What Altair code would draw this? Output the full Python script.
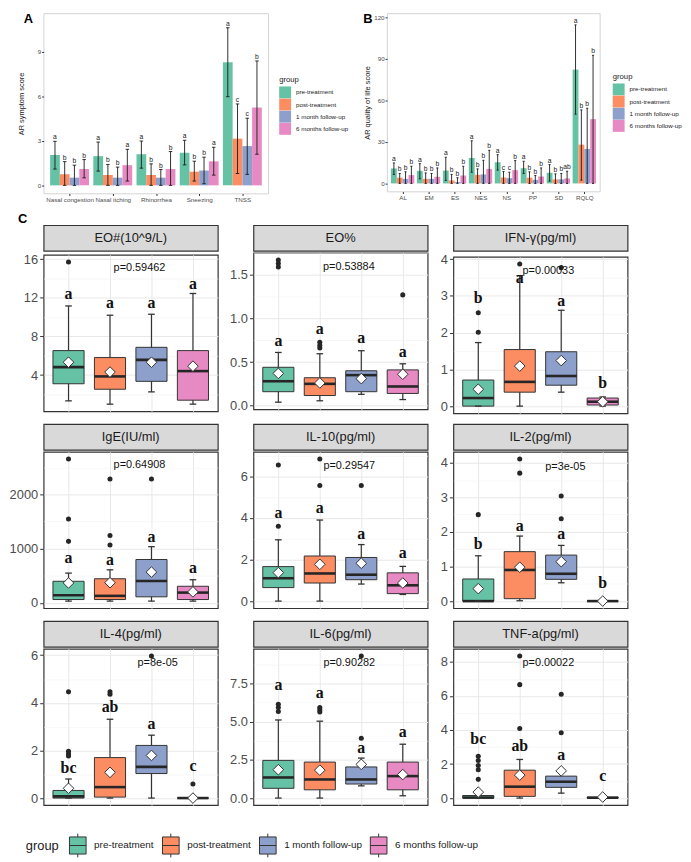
import altair as alt
import pandas as pd

GROUPS = ["pre-treatment", "post-treatment", "1 month follow-up", "6 months follow-up"]
COLORS = ["#66C2A5", "#FC8D62", "#8DA0CB", "#E78AC3"]

# ---------------- Panel A ----------------
A_CATS = ["Nasal congestion", "Nasal itching", "Rhinorrhea", "Sneezing", "TNSS"]
A_MEAN = [
    [2.05, 1.97, 2.10, 2.20, 8.30],
    [0.75, 0.70, 0.70, 0.92, 3.15],
    [0.52, 0.52, 0.52, 1.00, 2.65],
    [1.10, 1.36, 1.10, 1.62, 5.25],
]
A_LOW = [
    [1.10, 0.96, 1.16, 1.38, 5.98],
    [0.00, 0.00, 0.00, 0.29, 0.80],
    [0.00, 0.00, 0.00, 0.11, 0.74],
    [0.51, 0.29, 0.00, 0.69, 2.10],
]
A_HIGH = [
    [2.97, 2.92, 2.99, 3.04, 10.63],
    [1.60, 1.41, 1.45, 1.63, 5.49],
    [1.36, 1.23, 1.07, 1.90, 4.53],
    [1.74, 2.43, 2.28, 2.57, 8.39],
]
A_LETTERS = [
    ["a", "a", "a", "a", "a"],
    ["b", "b", "b", "b", "c"],
    ["b", "b", "b", "b", "c"],
    ["b", "a", "b", "a", "b"],
]
A_YLIM = [-0.55, 11.6]
A_BREAKS = [0, 3, 6, 9]

# ---------------- Panel B ----------------
B_CATS = ["AL", "EM", "ES", "NES", "NS", "PP", "SD", "RQLQ"]
B_MEAN = [
    [10.8, 9.1, 9.3, 18.4, 15.3, 11.0, 7.7, 82.2],
    [4.1, 3.3, 2.2, 6.2, 4.3, 4.1, 2.9, 28.0],
    [3.3, 3.3, 1.0, 6.5, 3.8, 2.6, 2.9, 24.9],
    [6.0, 4.8, 5.7, 10.5, 9.6, 5.0, 3.6, 46.4],
]
B_LOW = [
    [6.5, 3.3, 2.2, 8.1, 9.6, 7.2, 1.7, 50.0],
    [0, 0, 0, 0, 0, 0, 0, 2.4],
    [0, 0, 0, 0, 0, 0, 0, 0],
    [0, 0, 0, 0, 0, 0, 0, 0],
]
B_HIGH = [
    [14.8, 14.3, 18.9, 30.8, 20.8, 16.0, 13.6, 114.5],
    [7.2, 7.6, 6.5, 10.5, 8.6, 8.4, 6.9, 53.1],
    [8.4, 7.2, 4.1, 16.7, 8.1, 5.7, 7.2, 54.3],
    [12.4, 11.2, 12.4, 23.9, 16.5, 11.2, 8.8, 92.5],
]
B_LETTERS = [
    ["a", "a", "a", "a", "a", "a", "a", "a"],
    ["b", "b", "b", "b", "c", "b", "b", "b"],
    ["b", "b", "b", "b", "c", "b", "b", "b"],
    ["b", "b", "b", "b", "b", "b", "ab", "b"],
]
B_YLIM = [-5.85, 122.8]
B_BREAKS = [0, 30, 60, 90, 120]

# ---------------- Panel C ----------------
PANELS = ["EO#(10^9/L)", "EO%", "IFN-γ(pg/ml)", "IgE(IU/ml)", "IL-10(pg/ml)",
          "IL-2(pg/ml)", "IL-4(pg/ml)", "IL-6(pg/ml)", "TNF-a(pg/ml)"]
Q1 = [[3.10, 2.53, 3.35, 1.40], [0.16, 0.116, 0.16, 0.14], [0.0, 0.38, 0.57, 0.03],
      [60, 60, 110, 60], [0.65, 0.87, 1.03, 0.36], [0.0, 0.07, 0.63, 0.0],
      [0.0, 0.04, 1.03, 0.0], [0.64, 0.54, 0.92, 0.54], [0.0, 0.10, 0.63, 0.0]]
MEDIAN = [[4.82, 3.86, 5.57, 4.41], [0.28, 0.25, 0.35, 0.22], [0.22, 0.66, 0.82, 0.12],
          [140, 128, 402, 188], [1.10, 1.33, 1.27, 0.76], [0.0, 0.90, 0.79, 0.0],
          [0.07, 0.46, 1.31, 0.0], [1.35, 1.22, 1.22, 1.44], [0.03, 0.67, 0.96, 0.02]]
Q3 = [[6.53, 5.81, 6.87, 6.53], [0.44, 0.32, 0.40, 0.41], [0.71, 1.54, 1.48, 0.22],
      [397, 444, 799, 305], [1.66, 2.17, 2.10, 1.36], [0.64, 1.43, 1.33, 0.0],
      [0.32, 1.70, 2.21, 0.0], [2.47, 2.36, 2.04, 2.36], [0.15, 1.64, 1.29, 0.05]]
WHISK_LO = [[1.33, 0.99, 2.26, 0.99], [0.04, 0.056, 0.13, 0.07], [0.0, 0.0, 0.38, 0.0],
            [31, 31, 31, 31], [0.0, 0.0, 0.82, 0.32], [0.0, 0.01, 0.53, 0.0],
            [0.0, 0.0, 0.0, 0.0], [0.0, 0.0, 0.80, 0.15], [0.0, 0.0, 0.29, 0.0]]
WHISK_HI = [[11.15, 10.19, 10.29, 12.44], [0.61, 0.595, 0.63, 0.48], [1.73, 3.55, 2.61, 0.25],
            [548, 609, 1036, 426], [2.95, 3.90, 2.72, 1.67], [1.31, 1.88, 1.61, 0.0],
            [0.80, 3.31, 2.64, 0.0], [5.12, 5.04, 2.62, 3.53], [0.30, 2.27, 1.60, 0.10]]
MEANS = [[5.33, 4.31, 5.33, 4.92], [0.37, 0.26, 0.31, 0.36], [0.46, 1.09, 1.24, 0.12],
         [366, 371, 567, 201], [1.37, 1.77, 1.82, 0.87], [0.36, 0.98, 1.14, 0.0],
         [0.41, 1.08, 1.79, 0.0], [1.86, 1.83, 2.21, 1.54], [0.35, 1.35, 1.60, 0.06]]
OUTLIERS = [
    [[15.7], [], [], []],
    [[1.67, 1.63, 1.59], [0.726, 0.69, 0.66], [], [1.27]],
    [[2.54, 2.01], [3.87], [3.77], []],
    [[2656, 1548, 1134], [2285, 1243, 1068], [2285], []],
    [[6.55, 3.60], [6.84, 5.56], [5.56], []],
    [[2.50], [4.11, 3.70], [3.04, 2.38], []],
    [[4.46, 1.97, 1.86, 1.77], [4.46, 4.36], [5.97], [0.59]],
    [[6.15, 5.94, 5.68], [5.94, 5.78, 5.64], [3.92, 9.32], []],
    [[2.46, 2.21, 1.92, 1.67, 1.10], [8.36, 6.67, 4.09], [6.11, 3.84], []],
]
LETTERS = [["a", "a", "a", "a"], ["a", "a", "a", "a"], ["b", "a", "a", "b"],
           ["a", "a", "a", "a"], ["a", "a", "a", "a"], ["b", "a", "a", "b"],
           ["bc", "ab", "a", "c"], ["a", "a", "a", "a"], ["bc", "ab", "a", "c"]]
LETTER_Y = [[12.34, 11.5, 11.5, 13.44], [0.745, 0.877, 0.77, 0.61], [2.93, 3.50, 2.86, 0.64],
            [828, 780, 1219, 640], [4.26, 4.50, 3.21, 2.29], [1.66, 2.18, 1.93, 0.53],
            [1.28, 3.81, 3.10, 1.35], [7.44, 6.90, 3.28, 4.33], [3.46, 3.04, 2.50, 1.29]]
P_LABELS = ["p=0.59462", "p=0.53884", "p=0.00033", "p=0.64908", "p=0.29547",
            "p=3e-05", "p=8e-05", "p=0.90282", "p=0.00022"]
P_X = [2.71, 2.70, 2.69, 2.71, 2.71, 3.10, 3.15, 2.71, 2.69]
P_Y = [15.08, 1.59, 3.69, 2535, 6.5, 3.89, 5.66, 8.83, 7.94]
BREAKS = [[4, 8, 12, 16], [0, 0.5, 1.0, 1.5], [0, 1, 2, 3, 4], [0, 1000, 2000],
          [0, 2, 4, 6], [0, 1, 2, 3, 4], [0, 2, 4, 6], [0, 2.5, 5.0, 7.5], [0, 2, 4, 6, 8]]
FORMATS = ["d", ".1f", "d", "d", "d", "d", "d", ".1f", "d"]

FONT = "Liberation Sans"
DARK = "#333333"


def bar_chart(cats, means, lows, highs, letters, ylim, breaks, ytitle, tag, width,
              height, leg_x, leg_y, tag_x, title_pad):
    recs = []
    for gi, g in enumerate(GROUPS):
        for ci, c in enumerate(cats):
            recs.append({"group": g, "pos": ci + 1 + (gi - 1.5) * 0.225,
                         "mean": means[gi][ci], "low": lows[gi][ci],
                         "high": highs[gi][ci], "letter": letters[gi][ci]})
    df = pd.DataFrame(recs)
    n = len(cats)
    xs = alt.Scale(domain=[0.4, n + 0.6], nice=False, zero=False)
    names = ",".join("'" + c + "'" for c in cats)
    xa = alt.Axis(values=list(range(1, n + 1)), labelExpr=f"[{names}][datum.value - 1]",
                  title=None, grid=False, domain=False, labelFontSize=6.3,
                  labelColor="#4d4d4d", tickColor=DARK, tickSize=2, labelPadding=1,
                  labelOverlap=False, labelFlush=False, labelBound=False)
    ys = alt.Scale(domain=ylim, nice=False, zero=False)
    ya = alt.Axis(values=breaks, title=ytitle, grid=False, domain=False, labelFontSize=6.3,
                  labelColor="#4d4d4d", tickColor=DARK, tickSize=2, labelPadding=1,
                  titleFontSize=7.5, titleFontWeight="normal", titleColor="#1a1a1a",
                  titlePadding=title_pad)

    def X(f):
        return alt.X(f, type="quantitative", scale=xs, axis=xa)

    def Y(f):
        return alt.Y(f, type="quantitative", scale=ys, axis=ya)

    base = alt.Chart(df).transform_calculate(
        x1="datum.pos - 0.1125", x2="datum.pos + 0.1125",
        c1="datum.pos - 0.04", c2="datum.pos + 0.04", zero="0")
    leg = alt.Legend(orient="none", legendX=leg_x, legendY=leg_y, direction="vertical",
                     title="group", titleFontSize=7.8, titleFontWeight="normal",
                     titleColor="#1a1a1a", titlePadding=3, labelFontSize=6.3,
                     labelColor="#1a1a1a", labelOffset=5, symbolType="square",
                     symbolSize=144, symbolStrokeWidth=0, symbolOpacity=1, rowPadding=0.3)
    bars = base.mark_bar().encode(
        x=X("x1"), x2="x2:Q", y=Y("mean"), y2="zero:Q",
        color=alt.Color("group:N", scale=alt.Scale(domain=GROUPS, range=COLORS), legend=leg))
    err = base.mark_rule(color="#1a1a1a", strokeWidth=0.9).encode(
        x=X("pos"), y=Y("low"), y2="high:Q")
    cap_hi = base.mark_rule(color="#1a1a1a", strokeWidth=0.9).encode(
        x=X("c1"), x2="c2:Q", y=Y("high"))
    cap_lo = base.mark_rule(color="#1a1a1a", strokeWidth=0.9).encode(
        x=X("c1"), x2="c2:Q", y=Y("low"))
    txt = base.mark_text(fontSize=6.8, baseline="bottom", dy=-1, color="#1a1a1a").encode(
        x=X("pos"), y=Y("high"), text="letter:N")
    tagc = alt.Chart(pd.DataFrame({"t": [tag]})).mark_text(
        fontSize=13, fontWeight="bold", align="left", baseline="top", color="black"
    ).encode(text="t:N", x=alt.value(tag_x), y=alt.value(0))
    return alt.layer(bars, err, cap_hi, cap_lo, txt, tagc).properties(
        width=width, height=height,
        view=alt.ViewBackground(stroke="#c8c8c8", strokeWidth=0.8, fill="white"))


BOX_PATH = "M-0.7,-0.72H0.7V0.72H-0.7Z M-0.7,0H0.7 M0,-0.72V-1 M0,0.72V1"
LEG_C = alt.Legend(orient="none", legendX=-18, legendY=614, direction="horizontal",
                   title="group", titleOrient="left", titleFontSize=13,
                   titleFontWeight="normal", titleColor="#1a1a1a", titlePadding=6,
                   titleAnchor="middle", titleBaseline="middle",
                   labelFontSize=10, labelColor="#1a1a1a", labelOffset=4, columnPadding=4,
                   symbolType=BOX_PATH, symbolSize=576, symbolStrokeColor=DARK,
                   symbolStrokeWidth=1, symbolOpacity=1)


def box_panel(i, ext, with_tag=False):
    recs = []
    for gi, g in enumerate(GROUPS):
        recs.append({"group": g, "idx": gi + 1, "q1": Q1[i][gi], "med": MEDIAN[i][gi],
                     "q3": Q3[i][gi], "lo": WHISK_LO[i][gi], "hi": WHISK_HI[i][gi],
                     "mean": MEANS[i][gi], "letter": LETTERS[i][gi], "ly": LETTER_Y[i][gi]})
    df = pd.DataFrame(recs)
    out = pd.DataFrame([{"idx": gi + 1, "v": v} for gi, vals in enumerate(OUTLIERS[i]) for v in vals],
                       columns=["idx", "v"])
    pdf = pd.DataFrame({"px": [P_X[i]], "py": [P_Y[i]], "pt": [P_LABELS[i]]})

    allv = (WHISK_LO[i] + WHISK_HI[i] + Q1[i] + Q3[i] + MEANS[i] + LETTER_Y[i]
            + [v for vals in OUTLIERS[i] for v in vals] + [P_Y[i]])
    lo, hi = min(allv), max(allv)
    r = hi - lo
    dom = [lo - 0.05 * r, hi + 0.05 * r]
    br = BREAKS[i]
    step = br[1] - br[0]
    minor = [b - step / 2 for b in br] + [br[-1] + step / 2]
    minor = [m for m in minor if dom[0] <= m <= dom[1]]

    xs = alt.Scale(domain=[0.4, 4.6], nice=False, zero=False)
    xa = alt.Axis(values=[1, 2, 3, 4], labels=False, ticks=False, domain=False, title=None,
                  grid=True, gridColor="#e8e8e8", gridWidth=1, minExtent=0, maxExtent=0,
                  offset=0)
    ys = alt.Scale(domain=dom, nice=False, zero=False)
    ya = alt.Axis(values=br, format=FORMATS[i], title=None, grid=True, gridColor="#e8e8e8",
                  gridWidth=1, domain=False, labelFontSize=13, labelColor="#4d4d4d",
                  tickColor=DARK, tickSize=4, labelPadding=2, orient="left",
                  minExtent=ext, maxExtent=ext)
    ya_minor = alt.Axis(values=minor, labels=False, ticks=False, domain=False, title=None,
                        grid=True, gridColor="#f2f2f2", gridWidth=0.6, orient="left",
                        minExtent=0, maxExtent=0)

    def X(f):
        return alt.X(f, type="quantitative", scale=xs, axis=xa)

    def Y(f):
        return alt.Y(f, type="quantitative", scale=ys, axis=ya)

    base = alt.Chart(df).transform_calculate(
        bx1="datum.idx - 0.375", bx2="datum.idx + 0.375",
        cx1="datum.idx - 0.08", cx2="datum.idx + 0.08")

    whisk = base.mark_rule(color=DARK, strokeWidth=1.2).encode(
        x=X("idx"), y=alt.Y("lo:Q", scale=ys, axis=ya_minor), y2="hi:Q")
    box = base.mark_bar(stroke=DARK, strokeWidth=1).encode(
        x=X("bx1"), x2="bx2:Q", y=Y("q1"), y2="q3:Q",
        color=alt.Color("group:N", scale=alt.Scale(domain=GROUPS, range=COLORS), legend=LEG_C))
    med = base.mark_rule(color="#262626", strokeWidth=2.6).encode(
        x=X("bx1"), x2="bx2:Q", y=Y("med"))
    cap_hi = base.mark_rule(color=DARK, strokeWidth=1.3).encode(
        x=X("cx1"), x2="cx2:Q", y=Y("hi"))
    cap_lo = base.mark_rule(color=DARK, strokeWidth=1.3).encode(
        x=X("cx1"), x2="cx2:Q", y=Y("lo"))
    outl = alt.Chart(out).mark_circle(size=26, color="#262626", opacity=1).encode(
        x=X("idx"), y=Y("v"))
    mean = base.mark_point(shape="diamond", filled=True, fill="white", stroke=DARK,
                           strokeWidth=1, size=115, opacity=1).encode(x=X("idx"), y=Y("mean"))
    lets = base.mark_text(font="Liberation Serif", fontWeight="bold", fontSize=16,
                          color="#111111", baseline="middle").encode(
        x=X("idx"), y=Y("ly"), text="letter:N")
    ptxt = alt.Chart(pdf).mark_text(fontSize=11, color="#111111", baseline="middle").encode(
        x=X("px"), y=Y("py"), text="pt:N")

    main = alt.layer(box, med, cap_hi, cap_lo, outl, mean, lets, ptxt)
    plot = alt.layer(whisk, main).resolve_axis(y="independent").properties(
        width=176, height=158,
        view=alt.ViewBackground(stroke=DARK, strokeWidth=1.2, fill="white"))

    strip_txt = alt.Chart(pd.DataFrame({"t": [PANELS[i]]})).mark_text(
        fontSize=13, color="#1a1a1a").encode(text="t:N")
    layers = [strip_txt]
    if with_tag:
        layers.append(alt.Chart(pd.DataFrame({"t": ["C"]})).mark_text(
            fontSize=13, fontWeight="bold", color="black", align="left", baseline="middle"
        ).encode(text="t:N", x=alt.value(-26), y=alt.value(-6)))
    strip = alt.layer(*layers).properties(
        width=176, height=26,
        view=alt.ViewBackground(fill="#d9d9d9", stroke=DARK, strokeWidth=1.2))
    return alt.vconcat(strip, plot, spacing=0)


chart_a = bar_chart(A_CATS, A_MEAN, A_LOW, A_HIGH, A_LETTERS, A_YLIM, A_BREAKS,
                    "AR symptom score", "A", 227, 182, 238, 63, -20, 12)
chart_b = bar_chart(B_CATS, B_MEAN, B_LOW, B_HIGH, B_LETTERS, B_YLIM, B_BREAKS,
                    "AR quality of life score", "B", 215, 180, 228, 60, -24, 2)

EXTENTS = [35, 26, 16]
cells = [box_panel(i, EXTENTS[i % 3], with_tag=(i == 0)) for i in range(9)]
grid = alt.concat(*cells, columns=3, spacing={"row": 9, "column": 8})

top = alt.hconcat(chart_a, chart_b, spacing=13).resolve_scale(color="independent")
chart = alt.vconcat(top, grid, spacing=9).resolve_scale(color="independent").properties(
    padding={"left": 0, "right": 0, "top": 0, "bottom": 0}
).configure(font=FONT).configure_view(stroke=None)

chart.save("out.html", embed_options={"renderer": "svg", "actions": False})
